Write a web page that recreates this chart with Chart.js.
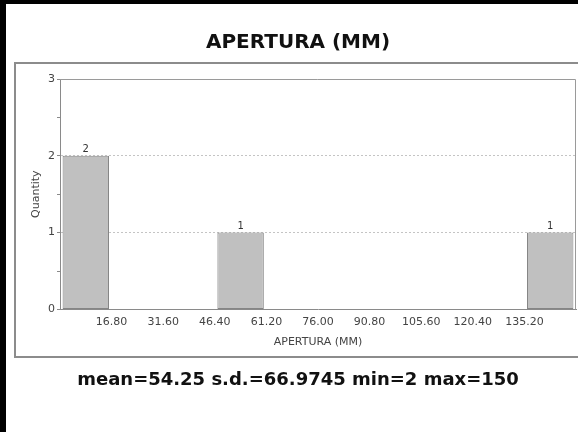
<!DOCTYPE html>
<html lang="en">
<head>
    <meta charset="UTF-8">
    <title>APERTURA (MM)</title>
    <style>
        html, body {
            margin: 0;
            padding: 0;
            background: #fff;
        }
        #wrap {
            position: relative;
            width: 578px;
            height: 432px;
        }
    </style>
</head>
<body>
    <div id="wrap">
        <canvas id="histChart" width="578" height="432"></canvas>
    </div>

    <script src="https://cdn.jsdelivr.net/npm/chart.js"></script>
    <script>
        // histogram bins (edges) and counts
        const binEdges = [2, 16.8, 31.6, 46.4, 61.2, 76, 90.8, 105.6, 120.4, 135.2, 150];
        const counts = [2, 0, 0, 1, 0, 0, 0, 0, 0, 1];
        const tickValues = [16.8, 31.6, 46.4, 61.2, 76, 90.8, 105.6, 120.4, 135.2];
        const tickLabels = ['16.80', '31.60', '46.40', '61.20', '76.00', '90.80', '105.60', '120.40', '135.20'];
        const statsText = 'mean=54.25 s.d.=66.9745 min=2 max=150';

        // empty bins stay null so no flat bar gets drawn
        const points = counts.map((c, i) => ({ x: (binEdges[i] + binEdges[i + 1]) / 2, y: c > 0 ? c : null }));

        // panel frame + black page edges
        const framePlugin = {
            id: 'frame',
            beforeDraw(chart) {
                const ctx = chart.ctx;
                ctx.save();
                ctx.fillStyle = '#fff';
                ctx.fillRect(0, 0, chart.width, chart.height);
                ctx.strokeStyle = '#8c8c8c';
                ctx.lineWidth = 2;
                ctx.strokeRect(15, 63, 600, 294);
                ctx.fillStyle = '#000';
                ctx.fillRect(0, 0, chart.width, 4);
                ctx.fillRect(0, 0, 6, chart.height);
                ctx.restore();
            },
            beforeDatasetsDraw(chart) {
                const { ctx, chartArea: a } = chart;
                ctx.save();
                ctx.strokeStyle = '#9a9a9a';
                ctx.lineWidth = 1;
                ctx.beginPath();
                ctx.moveTo(a.left, a.top + 0.5);
                ctx.lineTo(a.right - 0.5, a.top + 0.5);
                ctx.lineTo(a.right - 0.5, a.bottom);
                ctx.stroke();
                ctx.restore();
            }
        };

        // count labels over the bars
        const countLabels = {
            id: 'countLabels',
            afterDatasetsDraw(chart) {
                const ctx = chart.ctx;
                const meta = chart.getDatasetMeta(0);
                ctx.save();
                ctx.font = '10px "DejaVu Sans"';
                ctx.fillStyle = '#333';
                ctx.textAlign = 'center';
                ctx.textBaseline = 'bottom';
                meta.data.forEach((bar, i) => {
                    if (counts[i] > 0) ctx.fillText(String(counts[i]), bar.x, bar.y - 1);
                });
                ctx.restore();
            }
        };

        new Chart(document.getElementById('histChart'), {
            type: 'bar',
            data: {
                datasets: [{
                    data: points,
                    backgroundColor: '#c0c0c0',
                    borderColor: '#858585',
                    borderWidth: 1,
                    borderSkipped: false,
                    barPercentage: 0.9,
                    categoryPercentage: 1.0
                }]
            },
            options: {
                responsive: false,
                animation: false,
                layout: { padding: { left: 20, right: 2, top: 0, bottom: 0 } },
                plugins: {
                    legend: { display: false },
                    tooltip: { enabled: false },
                    title: {
                        display: true,
                        text: 'APERTURA (MM)',
                        color: '#111',
                        font: { family: '"DejaVu Sans"', size: 20, weight: 'bold' },
                        padding: { top: 31, bottom: 24 }
                    },
                    subtitle: {
                        display: true,
                        position: 'bottom',
                        text: statsText,
                        color: '#111',
                        font: { family: '"DejaVu Sans"', size: 18, weight: 'bold' },
                        padding: { top: 12, bottom: 41 }
                    }
                },
                scales: {
                    x: {
                        type: 'linear',
                        offset: false,
                        min: binEdges[0],
                        max: binEdges[binEdges.length - 1],
                        afterBuildTicks: (scale) => {
                            scale.ticks = tickValues.map(v => ({ value: v }));
                        },
                        afterFit: (scale) => { scale.height = 48; },
                        ticks: {
                            autoSkip: false,
                            maxRotation: 0,
                            padding: 6,
                            color: '#444',
                            font: { family: '"DejaVu Sans"', size: 11 },
                            callback: (v, i) => tickLabels[i]
                        },
                        grid: { display: true, drawOnChartArea: false, drawTicks: false },
                        border: { color: '#8a8a8a' },
                        title: {
                            display: true,
                            text: 'APERTURA (MM)',
                            color: '#444',
                            font: { family: '"DejaVu Sans"', size: 11 },
                            padding: { top: 0, bottom: 9 }
                        }
                    },
                    y: {
                        min: 0,
                        max: 3,
                        afterFit: (scale) => { scale.width = 40; },
                        ticks: {
                            stepSize: 0.5,
                            padding: 2,
                            color: '#444',
                            font: { family: '"DejaVu Sans"', size: 11 },
                            callback: (v) => Number.isInteger(v) ? v : ''
                        },
                        grid: {
                            tickLength: 3,
                            tickColor: '#8a8a8a',
                            color: (c) => {
                                const v = c.tick ? c.tick.value : 0;
                                return (Number.isInteger(v) && v > 0 && v < 3) ? '#c4c4c4' : 'rgba(0,0,0,0)';
                            }
                        },
                        border: { color: '#8a8a8a', dash: [2, 2] },
                        title: {
                            display: true,
                            text: 'Quantity',
                            color: '#444',
                            font: { family: '"DejaVu Sans"', size: 11 },
                            padding: { top: 10, bottom: 0 }
                        }
                    }
                }
            },
            plugins: [framePlugin, countLabels]
        });
    </script>
</body>
</html>
